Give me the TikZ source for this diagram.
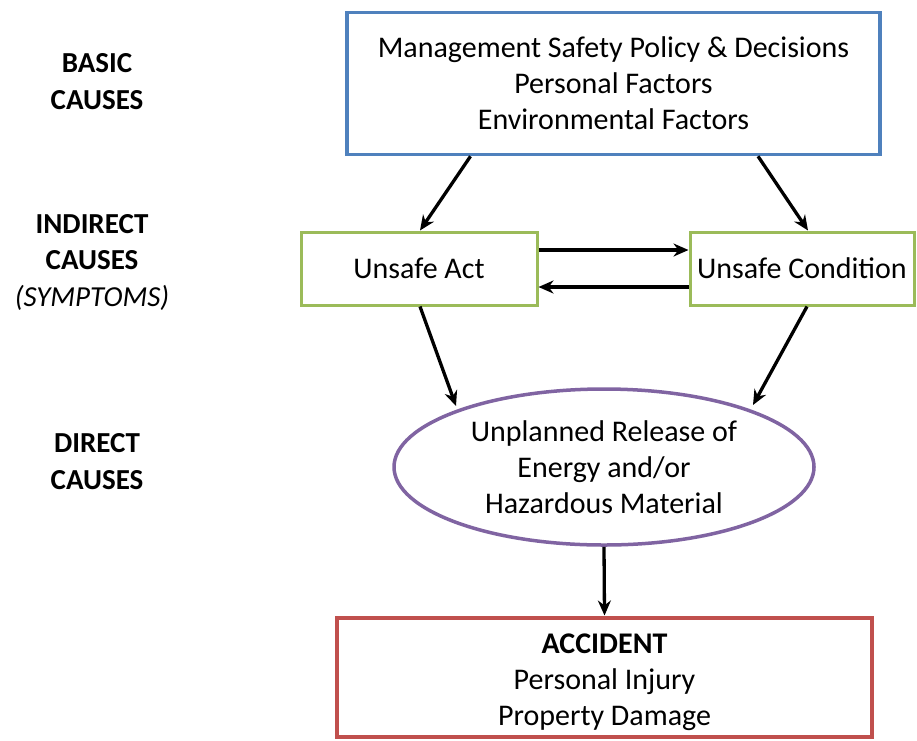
\documentclass[tikz,border=0pt]{standalone}
\usepackage{fontspec}
\setmainfont{Carlito}
\usetikzlibrary{arrows.meta,calc,shapes.geometric}
\definecolor{cblue}{RGB}{79,129,189}
\definecolor{cgreen}{RGB}{155,187,89}
\definecolor{cpurple}{RGB}{128,100,162}
\definecolor{cred}{RGB}{192,80,77}
\begin{document}
\begin{tikzpicture}[x=1pt,y=-1pt,
  txt/.style={font=\fontsize{30}{36}\selectfont, align=center},
  lbl/.style={font=\fontsize{29}{36.5}\selectfont\bfseries, align=center},
  boxa/.style={draw=cblue, line width=3.5pt, inner sep=0pt},
  boxg/.style={draw=cgreen, line width=3pt, inner sep=0pt},
  boxr/.style={draw=cred, line width=4pt, inner sep=0pt},
  ellp/.style={draw=cpurple, ellipse, line width=3.5pt, inner sep=0pt},
  arr/.style={line width=3.3pt, -{Stealth[length=15pt,width=13pt]}}]
\useasboundingbox (0,0) rectangle (917,740);
\fill[white] (0,0) rectangle (917,740);
% left labels
\node[lbl] (basic) at (97,81.5) {BASIC\\CAUSES};
\node[lbl] (indirect) at (92,262) {INDIRECT\\CAUSES\\{\mdseries\itshape (SYMPTOMS)}};
\node[lbl] (direct) at (97,461.5) {DIRECT\\CAUSES};
% boxes
\node[boxa, minimum width=533pt, minimum height=142pt] (top) at (613.5,83.5) {};
\node[txt] at (top.center) {Management Safety Policy \& Decisions\\Personal Factors\\Environmental Factors};
\node[boxg, minimum width=236pt, minimum height=73pt] (act) at (419,268.5) {};
\node[txt] at (act.center) {Unsafe Act};
\node[boxg, minimum width=224pt, minimum height=73pt] (cond) at (802,268.5) {};
\node[txt] at (cond.center) {Unsafe Condition};
\node[ellp, minimum width=420pt, minimum height=156pt] (ell) at (604,467) {};
\node[txt] at (ell.center) {Unplanned Release of\\Energy and/or\\Hazardous Material};
\node[boxr, minimum width=535pt, minimum height=119pt] (acc) at (604.5,677) {};
\node[txt] at ($(acc.center)+(0,5)$) {\textbf{ACCIDENT}\\Personal Injury\\Property Damage};
% arrows
\draw[arr] ($(top.south)+(-143,0)$) -- ($(act.north)+(1,0)$);
\draw[arr] ($(top.south)+(144.5,0)$) -- ($(cond.north)+(6,0)$);
\draw[arr] ($(act.east)+(0,-18.5)$) -- ($(cond.west)+(0,-18.5)$);
\draw[arr] ($(cond.west)+(0,18.5)$) -- ($(act.east)+(0,18.5)$);
\draw[arr] ($(act.south)+(1,0)$) -- ($(ell.center)+(-148,-61)$);
\draw[arr] ($(cond.south)+(5,0)$) -- ($(ell.center)+(149,-62)$);
\draw[arr] (ell.south) -- (acc.north);
\end{tikzpicture}
\end{document}
